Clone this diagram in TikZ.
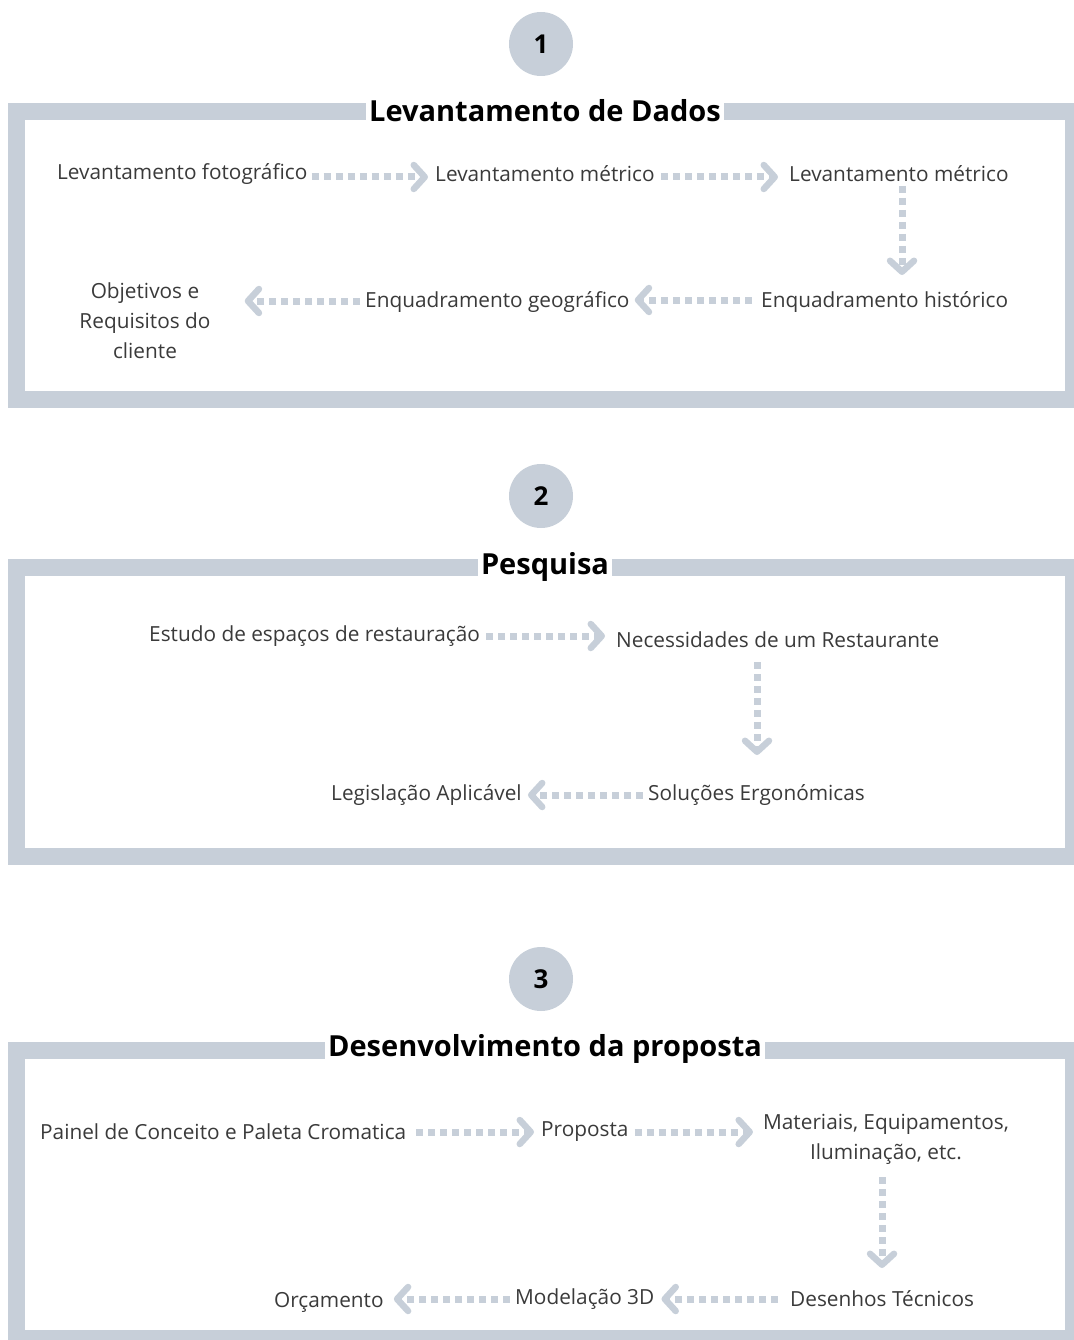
\documentclass[tikz,border=0pt]{standalone}
\usepackage{fontspec}
\setmainfont{Open Sans}
\usetikzlibrary{arrows.meta}
\definecolor{frame}{HTML}{C7CFD9}
\definecolor{txt}{HTML}{3A3A3A}
\tikzset{
  x=1pt,y=-1pt,
  frm/.style={draw=frame,line width=17pt},
  lbl/.style={inner sep=0pt,text=txt,font=\fontsize{20.8}{30}\selectfont,align=center},
  ttl/.style={fill=white,inner xsep=3pt,inner ysep=2pt,text=black,font=\fontsize{29}{32}\bfseries\selectfont},
  num/.style={circle,fill=frame,minimum size=64pt,inner sep=0pt,text=black,font=\fontsize{26}{30}\bfseries\selectfont},
  flow/.style={draw=frame,line width=7pt,dash pattern=on 7pt off 5pt,
    -{Straight Barb[length=11pt,width=24pt,line width=6.5pt,round]}},
}
\begin{document}
\begin{tikzpicture}
\useasboundingbox (0,0) rectangle (1073,1340);
% frames
\draw[frm] (16.5,111.5) rectangle (1073.5,399.5);
\draw[frm] (16.5,567.5) rectangle (1073.5,856);
\draw[frm] (16.5,1050.5) rectangle (1073.5,1338.5);
% numbers
\node[num] (n1) at (541,44) {1};
\node[num] (n2) at (541,496) {2};
\node[num] (n3) at (541,979) {3};
% titles
\node[ttl] (t1) at (545,111) {Levantamento de Dados};
\node[ttl] (t2) at (545,567) {Pesquisa};
\node[ttl] (t3) at (545,1049) {Desenvolvimento da proposta};
% section 1
\node[lbl,anchor=west] (a1) at (57,174) {Levantamento fotográfico};
\node[lbl,anchor=west] (a2) at (435,174) {Levantamento métrico};
\node[lbl,anchor=west] (a3) at (789,174) {Levantamento métrico};
\node[lbl,anchor=west] (a4) at (761,302) {Enquadramento histórico};
\node[lbl,anchor=west] (a5) at (365,302) {Enquadramento geográfico};
\node[lbl] (a6) at (145,321) {Objetivos e\\Requisitos do\\cliente};
\draw[flow] ([xshift=4pt,yshift=-3pt]a1.east) -- ([xshift=-7pt,yshift=-3pt]a2.west);
\draw[flow] ([xshift=6pt,yshift=-3pt]a2.east) -- ([xshift=-11pt,yshift=-3pt]a3.west);
\draw[flow] (902,186) -- (902,275);
\draw[flow] ([xshift=-9pt,yshift=2pt]a4.west) -- ([xshift=5pt,yshift=2pt]a5.east);
\draw[flow] ([xshift=-5pt,yshift=1pt]a5.west) -- ([xshift=34pt,yshift=20pt]a6.east);
% section 2
\node[lbl,anchor=west] (b1) at (149,636) {Estudo de espaços de restauração};
\node[lbl,anchor=west] (b2) at (616,640) {Necessidades de um Restaurante};
\node[lbl,anchor=west] (b3) at (648,795) {Soluções Ergonómicas};
\node[lbl,anchor=west] (b4) at (331,795) {Legislação Aplicável};
\draw[flow] ([xshift=6pt]b1.east) -- ([xshift=-11pt,yshift=4pt]b2.west);
\draw[flow] (757,662) -- (757,755);
\draw[flow] ([xshift=-5pt]b3.west) -- ([xshift=6pt]b4.east);
% section 3
\node[lbl,anchor=west] (c1) at (40,1132) {Painel de Conceito e Paleta Cromatica};
\node[lbl,anchor=west] (c2) at (541,1132) {Proposta};
\node[lbl] (c3) at (886,1139) {Materiais, Equipamentos,\\Iluminação, etc.};
\node[lbl,anchor=west] (c4) at (790,1299) {Desenhos Técnicos};
\node[lbl,anchor=west] (c5) at (515,1299) {Modelação 3D};
\node[lbl,anchor=west] (c6) at (274,1302) {Orçamento};
\draw[flow] ([xshift=10pt]c1.east) -- ([xshift=-7pt]c2.west);
\draw[flow] ([xshift=6pt]c2.east) -- ([xshift=-10pt,yshift=7pt]c3.west);
\draw[flow] (882,1177) -- (882,1268);
\draw[flow] ([xshift=-12pt]c4.west) -- ([xshift=7pt]c5.east);
\draw[flow] ([xshift=-5pt]c5.west) -- ([xshift=10pt,yshift=3pt]c6.east);
\end{tikzpicture}
\end{document}
